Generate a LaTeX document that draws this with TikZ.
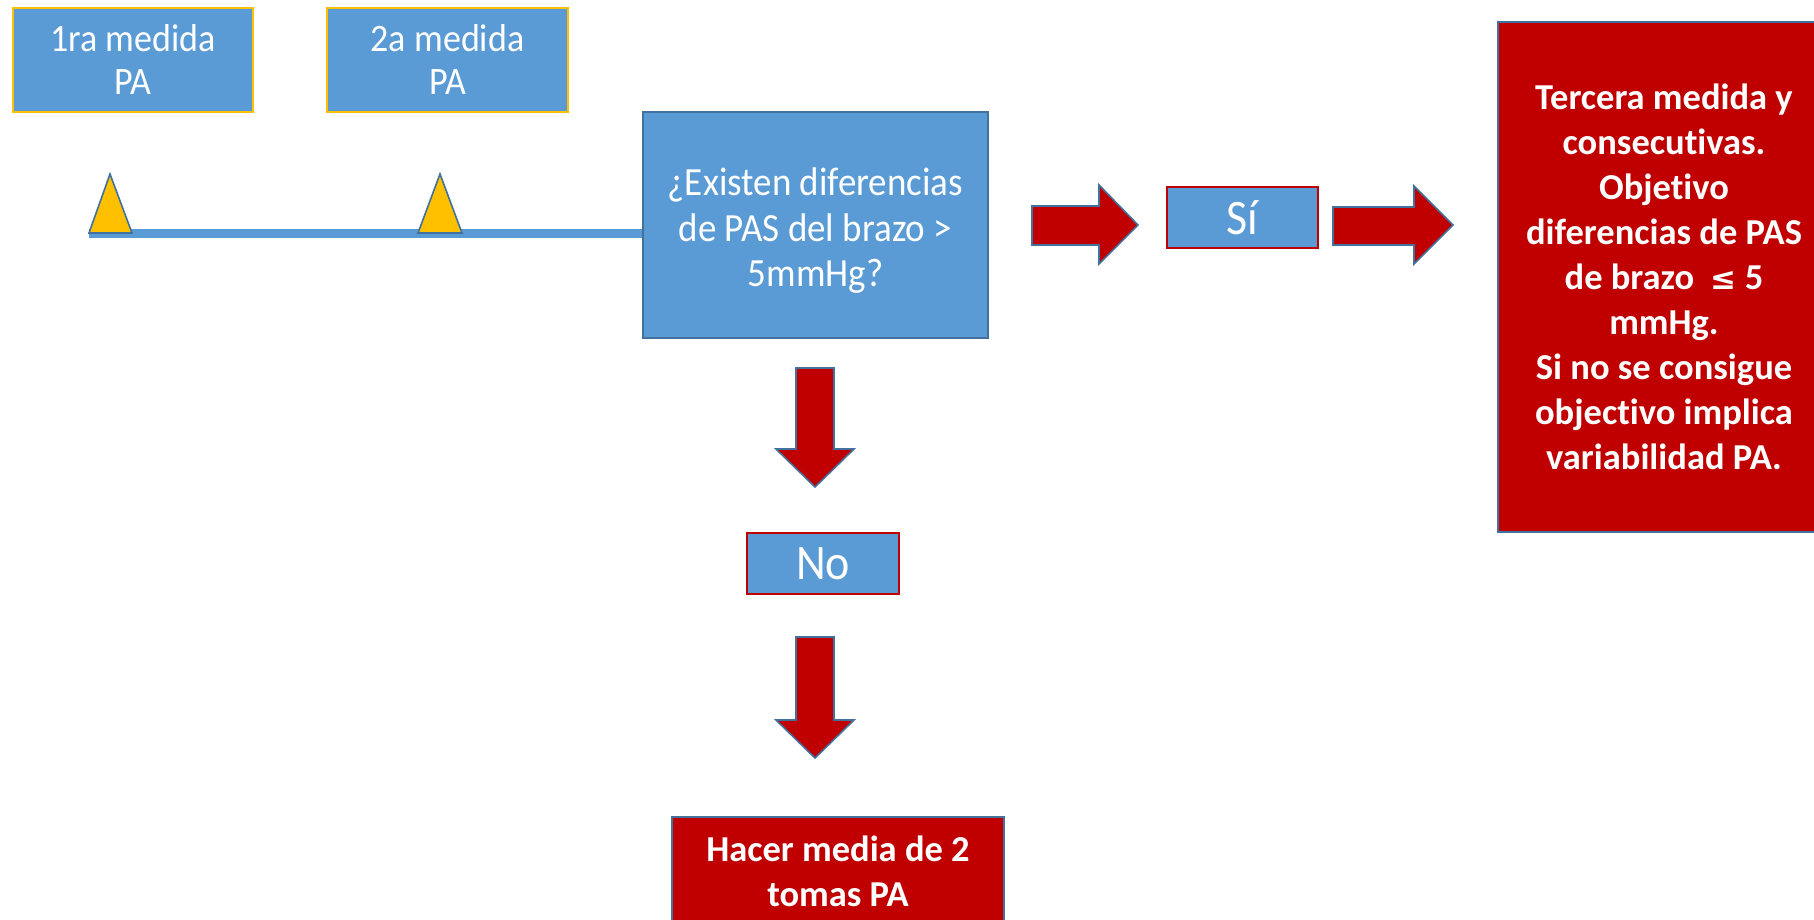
\documentclass[tikz,border=0pt]{standalone}
\usepackage{graphicx}
\usepackage{fontspec}
\setmainfont{Carlito}[Ligatures=NoCommon]
\newfontfamily\symfont{DejaVu Sans}
\definecolor{boxblue}{HTML}{5B9BD5}
\definecolor{edgeblue}{HTML}{41719C}
\definecolor{boxred}{HTML}{C00000}
\definecolor{gold}{HTML}{FFC000}
\newcommand{\tallstack}[2][14pt]{\raisebox{-#1}[0pt][0pt]{\scalebox{1}[1.08]{\begin{tabular}{@{}c@{}}#2\end{tabular}}}}
\tikzset{
  bluebox/.style={draw=edgeblue, line width=1.6pt, fill=boxblue, text=white, align=center, inner sep=0pt},
  yellowedge/.style={bluebox, draw=gold, line width=2.2pt},
  rededge/.style={bluebox, draw=boxred, line width=2pt},
  redbox/.style={draw=edgeblue, line width=1.6pt, fill=boxred, text=white, align=center, inner sep=0pt},
  blockarrow/.style={draw=edgeblue, line width=1.6pt, fill=boxred, line join=miter},
  marker/.style={draw=edgeblue, line width=1.6pt, fill=gold, line join=miter},
  lightfont/.style={font=\fontsize{36}{40}\selectfont},
  boldfont/.style={font=\fontsize{36.5}{45}\selectfont\bfseries},
}
\begin{document}
\begin{tikzpicture}[x=1pt,y=-1pt]
\useasboundingbox (0,0) rectangle (1814,919);
\clip (0,0) rectangle (1814,919);
\fill[white] (0,0) rectangle (1814,919);

% measurement boxes
\node[yellowedge, lightfont, minimum width=240pt, minimum height=104pt] (b1) at (133,60) {\tallstack[11pt]{1ra medida\\PA}};
\node[yellowedge, lightfont, minimum width=241pt, minimum height=104pt] (b2) at (447.5,60) {\tallstack[11pt]{2a medida\\PA}};

% timeline
\coordinate (lstart) at (89,233);
\coordinate (lend) at (645,233);
\draw[boxblue, line width=9pt] (lstart) -- (lend);
\draw[marker] (89,233) -- (110,174) -- (132,233) -- cycle;
\draw[marker] (418,233) -- (440,174) -- (462,233) -- cycle;
\node[bluebox, font=\fontsize{37}{42}\selectfont, minimum width=345pt, minimum height=226pt] (q) at (815.5,225)
  {\tallstack{¿Existen diferencias\\de PAS del brazo >\\5mmHg?}};

% yes branch
\node[rededge, font=\fontsize{46}{50}\selectfont, minimum width=151pt, minimum height=61pt] (si) at (1242.5,217.5) {\tallstack[13pt]{Sí}};
\node[redbox, boldfont, minimum width=332pt, minimum height=510pt] (res) at (1664,277)
  {Tercera medida y\\consecutivas.\\Objetivo\\diferencias de PAS\\de brazo \ {\symfont\bfseries\fontsize{31}{45}\selectfont ≤} 5\\mmHg.\\Si no se consigue\\objectivo implica\\variabilidad PA.};

\draw[blockarrow] (1032,206) -- (1099,206) -- (1099,185) -- (1138,225) -- (1099,264) -- (1099,245) -- (1032,245) -- cycle;
\draw[blockarrow] (1333,207) -- (1414,207) -- (1414,186) -- (1453,225) -- (1414,264) -- (1414,245) -- (1333,245) -- cycle;

% no branch
\node[rededge, font=\fontsize{46}{50}\selectfont, minimum width=152pt, minimum height=61pt] (no) at (823,563) {\tallstack[12pt]{No}};
\node[redbox, boldfont, minimum width=332pt, minimum height=108pt] (hacer) at (838,871) {Hacer media de 2\\tomas PA};

\draw[blockarrow] (796,368) -- (834,368) -- (834,449) -- (854,449) -- (815,487) -- (776,449) -- (796,449) -- cycle;
\draw[blockarrow] (796,637) -- (834,637) -- (834,720) -- (854,720) -- (815,758) -- (776,720) -- (796,720) -- cycle;
\end{tikzpicture}
\end{document}
